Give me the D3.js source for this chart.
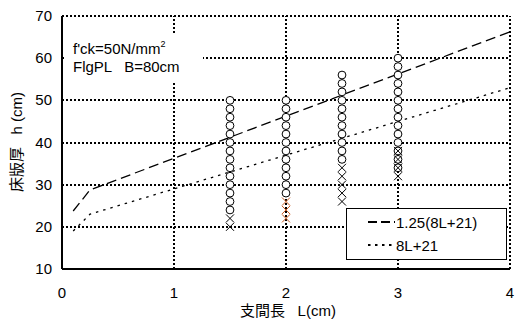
<!DOCTYPE html>
<html>
<head>
<meta charset="utf-8">
<script src="https://cdn.jsdelivr.net/npm/d3@7"></script>
<style>
  body { margin: 0; background: #fff; }
  svg text { font-family: "Liberation Sans", Arial, "Noto Sans CJK JP", sans-serif; fill: #000; }
</style>
</head>
<body>
<svg id="chart" width="521" height="320"></svg>
<script>
// design lines: span L vs slab thickness h
const lineL = [0.1, 0.25, 4];
const line125 = [23.75, 28.75, 66.25];   // 1.25(8L+21)
const line8L = [19, 23, 53];             // 8L+21

// trial points: circles = OK, crosses = NG
const okL15 = [24, 26, 28, 30, 32, 34, 36, 38, 40, 42, 44, 46, 48, 50];
const ngL15 = [20, 22];
const okL20 = [28, 30, 32, 34, 36, 38, 40, 42, 44, 46, 48, 50];
const ngL20 = [22, 24, 26];              // drawn in orange
const okL25 = [36, 38, 40, 42, 44, 46, 48, 50, 52, 54, 56];
const ngL25 = [26, 28, 30, 32, 34];
const okL30 = [34, 36, 38, 40, 42, 44, 46, 48, 50, 52, 54, 56, 58, 60];
const ngL30 = [32, 34, 36, 38];

const xTicks = [0, 1, 2, 3, 4];
const yTicks = [10, 20, 30, 40, 50, 60, 70];

const svg = d3.select('#chart');
const x = d3.scaleLinear().domain([0, 4]).range([62, 510]);
const y = d3.scaleLinear().domain([10, 70]).range([269, 16]);

// grid (dotted), including top and right edges
const grid = svg.append('g')
  .attr('stroke', '#000')
  .attr('stroke-width', 2)
  .attr('stroke-dasharray', '2,2')
  .attr('shape-rendering', 'crispEdges');
grid.selectAll('line.gy')
  .data(yTicks.filter((d) => d > 10))
  .join('line')
  .attr('x1', x(0)).attr('x2', x(4))
  .attr('y1', (d) => Math.round(y(d))).attr('y2', (d) => Math.round(y(d)));
grid.selectAll('line.gx')
  .data(xTicks.filter((d) => d > 0))
  .join('line')
  .attr('y1', y(10)).attr('y2', y(70))
  .attr('x1', (d) => Math.round(x(d))).attr('x2', (d) => Math.round(x(d)));

// annotation box (white background hides grid)
svg.append('rect')
  .attr('x', 64).attr('y', 33).attr('width', 139).attr('height', 49)
  .attr('fill', '#fff');
const note = svg.append('text').attr('x', 73).attr('font-size', 15);
note.append('tspan').attr('y', 54).text("f'ck=50N/mm");
note.append('tspan').attr('font-size', 9).attr('dy', -7).text('2');
svg.append('text').attr('x', 73).attr('y', 72).attr('font-size', 15)
  .attr('xml:space', 'preserve').text('FlgPL   B=80cm');

// design lines
const lineGen = d3.line().x((d) => x(d[0])).y((d) => y(d[1]));
svg.append('path')
  .datum(d3.zip(lineL, line125))
  .attr('d', lineGen)
  .attr('fill', 'none').attr('stroke', '#000').attr('stroke-width', 1.3)
  .attr('stroke-dasharray', '10,5');
svg.append('path')
  .datum(d3.zip(lineL, line8L))
  .attr('d', lineGen)
  .attr('fill', 'none').attr('stroke', '#000').attr('stroke-width', 1.3)
  .attr('stroke-dasharray', '2.5,5');

// markers
const okSets = [[1.5, okL15], [2, okL20], [2.5, okL25], [3, okL30]];
const ngSets = [[1.5, ngL15, '#000'], [2, ngL20, '#c5561c'], [2.5, ngL25, '#000'], [3, ngL30, '#000']];

const okPts = okSets.flatMap(([L, hs]) => hs.map((h) => ({ L, h })));
svg.append('g').selectAll('circle')
  .data(okPts)
  .join('circle')
  .attr('cx', (d) => x(d.L)).attr('cy', (d) => y(d.h))
  .attr('r', 3.9)
  .attr('fill', '#fff').attr('stroke', '#000').attr('stroke-width', 1);

const ngPts = ngSets.flatMap(([L, hs, c]) => hs.map((h) => ({ L, h, c })));
const s = 4;
svg.append('g').selectAll('path')
  .data(ngPts)
  .join('path')
  .attr('d', (d) => {
    const cx = x(d.L), cy = y(d.h);
    return `M${cx - s},${cy - s}L${cx + s},${cy + s}M${cx - s},${cy + s}L${cx + s},${cy - s}`;
  })
  .attr('fill', 'none').attr('stroke', (d) => d.c).attr('stroke-width', 1);

// solid left and bottom axes
svg.append('line').attr('x1', x(0)).attr('x2', x(0)).attr('y1', y(10)).attr('y2', y(70))
  .attr('stroke', '#000').attr('stroke-width', 2);
svg.append('line').attr('x1', x(0)).attr('x2', x(4)).attr('y1', y(10)).attr('y2', y(10))
  .attr('stroke', '#000').attr('stroke-width', 2);

// tick labels
svg.append('g').selectAll('text')
  .data(yTicks)
  .join('text')
  .attr('x', 52).attr('y', (d) => y(d) + 5)
  .attr('text-anchor', 'end').attr('font-size', 15)
  .text((d) => d);
svg.append('g').selectAll('text')
  .data(xTicks)
  .join('text')
  .attr('x', (d) => x(d)).attr('y', 298)
  .attr('text-anchor', 'middle').attr('font-size', 15)
  .text((d) => d);

// axis titles
svg.append('text')
  .attr('x', 288).attr('y', 316)
  .attr('text-anchor', 'middle').attr('font-size', 15)
  .attr('xml:space', 'preserve')
  .text('支間長   L(cm)');
svg.append('text')
  .attr('transform', 'translate(22,142) rotate(-90)')
  .attr('text-anchor', 'middle').attr('font-size', 15)
  .attr('xml:space', 'preserve')
  .text('床版厚   h (cm)');

// legend
const lg = svg.append('g');
lg.append('rect')
  .attr('x', 346.5).attr('y', 208.5).attr('width', 160).attr('height', 51)
  .attr('fill', '#fff').attr('stroke', '#000').attr('stroke-width', 1);
lg.append('line').attr('x1', 368).attr('x2', 395).attr('y1', 222).attr('y2', 222)
  .attr('stroke', '#000').attr('stroke-width', 1.8).attr('stroke-dasharray', '9,4');
lg.append('text').attr('x', 396).attr('y', 227.5).attr('font-size', 15).text('1.25(8L+21)');
lg.append('line').attr('x1', 368).attr('x2', 393).attr('y1', 245).attr('y2', 245)
  .attr('stroke', '#000').attr('stroke-width', 1.8).attr('stroke-dasharray', '2.5,4.5');
lg.append('text').attr('x', 396).attr('y', 250.5).attr('font-size', 15).text('8L+21');
</script>
</body>
</html>
